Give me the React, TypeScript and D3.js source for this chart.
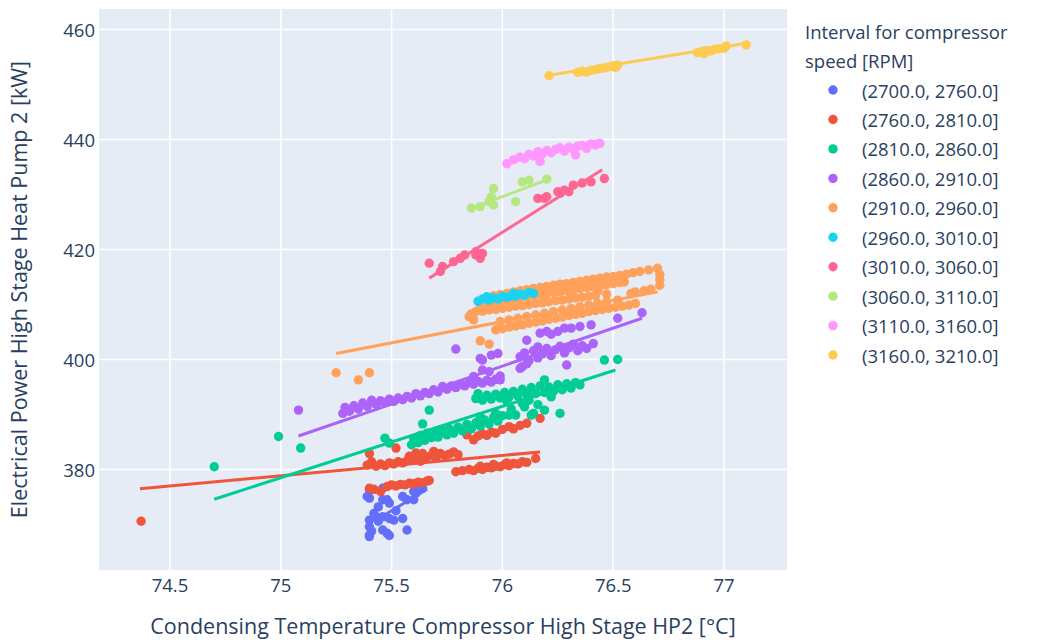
import React from "react";
import * as d3 from "d3";

type Pt = [number, number];

// Legend entries: compressor speed intervals
const speedBins: string[] = [
  "(2700.0, 2760.0]",
  "(2760.0, 2810.0]",
  "(2810.0, 2860.0]",
  "(2860.0, 2910.0]",
  "(2910.0, 2960.0]",
  "(2960.0, 3010.0]",
  "(3010.0, 3060.0]",
  "(3060.0, 3110.0]",
  "(3110.0, 3160.0]",
  "(3160.0, 3210.0]",
];

const binColors: string[] = [
  "#636efa", "#EF553B", "#00cc96", "#ab63fa", "#FFA15A",
  "#19d3f3", "#FF6692", "#B6E880", "#FF97FF", "#FECB52",
];

// Measurements: [condensing temperature °C, electrical power kW]
const rpm2700: Pt[] = [
  [75.40, 376.3], [75.46, 376.6], [75.39, 375.1], [75.40, 374.8], [75.46, 374.5], [75.44, 373.2],
  [75.49, 373.9], [75.48, 374.5], [75.40, 370.8], [75.43, 371.4], [75.44, 370.6], [75.46, 371.4],
  [75.49, 371.1], [75.51, 370.8], [75.55, 371.1], [75.40, 369.6], [75.41, 368.8], [75.40, 368.1],
  [75.40, 367.8], [75.46, 369.0], [75.48, 368.4], [75.49, 368.0], [75.57, 369.0], [75.55, 375.1],
  [75.57, 374.5], [75.60, 374.5], [75.61, 375.7], [75.60, 376.0], [75.64, 376.6], [75.62, 377.0],
  [75.42, 372.0], [75.52, 372.5],
];

const rpm2760: Pt[] = [
  [74.37, 370.6],
  [75.40, 376.6], [75.42, 376.4], [75.45, 376.0], [75.48, 376.9], [75.50, 377.2], [75.52, 377.0],
  [75.54, 377.3], [75.56, 377.2], [75.58, 377.5], [75.60, 377.4], [75.62, 377.7], [75.64, 377.6],
  [75.66, 377.9], [75.67, 378.0],
  [75.39, 380.8], [75.40, 382.9], [75.41, 381.4], [75.43, 380.6], [75.45, 381.0], [75.47, 380.7],
  [75.49, 381.2], [75.51, 381.0], [75.52, 383.9], [75.53, 381.4], [75.55, 381.2], [75.57, 381.6],
  [75.58, 382.4], [75.60, 381.8], [75.62, 382.2], [75.63, 381.5], [75.64, 382.9], [75.66, 382.3],
  [75.68, 382.6], [75.70, 382.1], [75.72, 382.9], [75.74, 382.5], [75.76, 382.8], [75.78, 383.2],
  [75.80, 382.7], [75.61, 383.0], [75.69, 383.3],
  [75.79, 379.6], [75.82, 379.8], [75.85, 380.0], [75.87, 379.8], [75.89, 380.2], [75.91, 380.0],
  [75.93, 380.4], [75.95, 380.3], [75.97, 380.6], [75.99, 380.5], [76.01, 380.9], [76.03, 380.7],
  [76.05, 381.1], [76.07, 381.0], [76.09, 381.4], [76.11, 381.3], [76.15, 382.0], [75.90, 380.6],
  [75.96, 380.9], [76.02, 381.2],
  [75.84, 386.3], [75.87, 385.4], [75.89, 386.1], [75.91, 386.5], [75.93, 386.2], [75.95, 386.8],
  [75.97, 386.6], [76.00, 387.3], [76.03, 387.8], [76.05, 387.4], [76.08, 388.0], [76.11, 388.4],
  [76.17, 389.3],
];

const rpm2810: Pt[] = [
  [74.70, 380.5], [74.99, 386.0], [75.09, 383.9], [75.47, 385.7], [75.49, 384.8], [75.64, 388.3],
  [75.67, 390.8],
  [75.59, 384.5], [75.60, 385.5], [75.62, 384.9], [75.63, 386.2], [75.65, 385.3], [75.66, 386.6],
  [75.68, 385.8], [75.70, 386.9], [75.71, 385.9], [75.73, 387.0], [75.75, 386.3], [75.76, 387.4],
  [75.78, 386.6], [75.80, 387.7], [75.82, 387.0], [75.84, 388.2], [75.86, 387.4], [75.88, 388.5],
  [75.90, 387.9], [75.92, 389.0], [75.94, 388.3], [75.96, 389.5], [75.98, 388.8], [76.00, 389.8],
  [76.03, 389.9], [75.90, 389.6], [75.97, 390.2],
  [75.88, 392.9], [75.89, 393.8], [75.91, 392.6], [75.93, 393.5], [75.95, 392.8], [75.97, 393.7],
  [75.99, 393.0], [76.01, 394.0], [76.03, 393.2], [76.05, 394.2], [76.07, 393.4], [76.09, 392.0],
  [76.09, 394.6], [76.11, 393.6], [76.13, 394.9], [76.15, 393.8], [76.17, 395.2], [76.19, 396.3],
  [76.19, 394.0], [76.21, 395.0], [76.23, 394.2], [76.25, 395.4], [76.27, 394.5], [76.29, 395.6],
  [76.31, 394.8], [76.33, 395.8], [76.35, 395.4], [76.02, 392.4], [76.12, 392.6], [76.22, 393.2],
  [76.46, 399.9], [76.52, 400.0], [76.26, 390.2], [76.13, 389.9], [76.19, 390.8], [76.06, 389.9],
  [76.14, 390.2], [76.04, 391.0], [76.10, 391.4], [76.16, 391.8],
];

const rpm2860: Pt[] = [
  [75.08, 390.8],
  [75.28, 390.2], [75.29, 391.3], [75.31, 390.6], [75.33, 391.6], [75.35, 391.0], [75.37, 392.1],
  [75.39, 391.5], [75.41, 392.6], [75.43, 391.9], [75.45, 392.5], [75.47, 392.2], [75.49, 392.8],
  [75.51, 392.4], [75.53, 393.0], [75.55, 392.7], [75.57, 393.3], [75.59, 393.0], [75.61, 393.8],
  [75.63, 393.4], [75.65, 394.0], [75.67, 393.8], [75.69, 394.5], [75.71, 394.1], [75.73, 395.1],
  [75.75, 394.6], [75.77, 395.2], [75.79, 394.9], [75.81, 395.5], [75.83, 395.2], [75.85, 395.8],
  [75.87, 395.5], [75.89, 396.0], [75.91, 395.7], [75.93, 396.2], [75.95, 395.9], [75.97, 396.4],
  [75.99, 396.3],
  [75.79, 401.9], [75.91, 399.9], [75.91, 398.1], [75.95, 400.8], [75.98, 401.1], [75.94, 397.8],
  [75.90, 400.2], [76.09, 398.7], [76.29, 399.0], [75.87, 396.9], [75.99, 397.0],
  [76.08, 400.5], [76.08, 398.4], [76.10, 401.2], [76.12, 399.8], [76.14, 401.6], [76.16, 400.3],
  [76.16, 402.3], [76.18, 401.0], [76.20, 402.0], [76.22, 400.7], [76.24, 401.8], [76.26, 402.4],
  [76.28, 401.2], [76.30, 402.1], [76.32, 402.8], [76.34, 401.6], [76.36, 402.5], [76.38, 402.0],
  [76.41, 402.9], [76.11, 399.2],
  [76.11, 403.5], [76.17, 404.8], [76.25, 405.1], [76.31, 405.7], [76.35, 406.0], [76.52, 407.5],
  [76.63, 408.5], [76.20, 405.1], [76.28, 405.7], [76.22, 404.6], [76.40, 406.3],
];

const rpm2910: Pt[] = [
  [75.25, 397.6], [75.35, 396.3], [75.40, 397.6], [75.85, 407.8], [75.90, 403.4], [75.94, 402.8],
  [75.86, 408.3], [75.87, 407.2],
  [75.96, 411.6], [75.99, 411.8], [76.02, 412.0], [76.05, 412.3], [76.08, 412.5], [76.11, 412.7],
  [76.14, 412.9], [76.17, 413.1], [76.20, 413.3], [76.23, 413.5], [76.26, 413.7], [76.29, 413.8],
  [76.32, 414.0], [76.35, 414.2], [76.38, 414.4], [76.41, 414.6], [76.44, 414.8], [76.47, 415.0],
  [76.50, 415.1], [76.53, 415.3], [76.56, 415.5], [76.59, 415.8], [76.62, 416.0], [76.66, 416.3],
  [76.70, 416.6],
  [75.90, 410.0], [75.93, 410.1], [75.96, 410.3], [75.99, 410.6], [76.02, 410.8], [76.05, 411.0],
  [76.08, 411.2], [76.11, 411.4], [76.14, 411.6], [76.17, 411.8], [76.20, 412.0], [76.23, 412.2],
  [76.26, 412.3], [76.29, 412.5], [76.32, 412.7], [76.35, 412.9], [76.38, 413.1], [76.41, 413.2],
  [76.44, 413.4], [76.47, 413.6], [76.50, 413.8], [76.53, 414.0], [76.55, 414.1],
  [76.04, 411.6], [76.13, 412.2], [76.22, 412.8], [76.31, 413.4], [76.40, 413.9], [76.49, 414.4],
  [75.95, 409.6], [76.07, 410.4], [76.19, 411.1], [76.31, 411.8], [76.43, 412.4],
  [75.88, 408.7], [75.91, 408.8], [75.94, 409.0], [75.97, 409.1], [76.00, 409.3], [76.03, 409.5],
  [76.06, 409.7], [76.09, 409.8], [76.12, 410.0], [76.15, 410.2], [76.18, 410.3], [76.21, 410.5],
  [76.24, 410.7], [76.27, 410.8], [76.30, 411.0], [76.33, 411.2], [76.36, 411.3], [76.39, 411.5],
  [76.42, 411.6], [76.47, 411.9],
  [76.58, 412.0], [76.60, 412.3], [76.64, 412.5], [76.67, 412.8], [76.71, 413.5], [76.71, 414.5],
  [76.71, 415.5],
  [75.97, 405.4], [76.00, 405.6], [76.03, 405.9], [76.06, 406.1], [76.09, 406.3], [76.12, 406.6],
  [76.15, 406.8], [76.18, 407.0], [76.21, 407.3], [76.24, 407.5], [76.27, 407.7], [76.30, 408.0],
  [76.33, 408.2], [76.36, 408.4], [76.39, 408.7], [76.42, 408.9], [76.45, 409.1], [76.48, 409.3],
  [76.51, 409.5], [76.54, 409.7], [76.57, 409.9], [76.60, 410.2],
  [75.99, 406.9], [76.03, 407.2], [76.07, 407.5], [76.11, 407.8], [76.15, 408.1], [76.19, 408.4],
  [76.23, 408.7], [76.27, 409.0], [76.31, 409.3], [76.35, 409.6], [76.39, 409.9], [76.43, 410.2],
  [76.47, 410.5], [76.52, 410.8],
];

const rpm2960: Pt[] = [
  [75.89, 410.6], [75.91, 411.0], [75.93, 411.4], [75.94, 410.8], [75.96, 411.2], [75.98, 411.0],
  [76.00, 411.5], [76.02, 411.3], [76.04, 411.6], [76.05, 412.0], [76.06, 411.5], [76.08, 411.9],
  [76.10, 411.7], [76.12, 412.2], [76.14, 412.0],
];

const rpm3010: Pt[] = [
  [75.67, 417.5], [75.73, 416.9], [75.72, 416.0], [75.78, 417.8], [75.81, 418.4], [75.83, 419.0],
  [75.88, 419.0], [75.88, 419.6], [75.90, 418.4], [75.91, 419.3], [75.90, 418.9],
  [76.16, 429.3], [76.19, 429.3], [76.20, 429.6], [76.25, 430.5], [76.26, 430.2], [76.28, 430.8],
  [76.30, 430.5], [76.32, 431.7], [76.36, 432.1], [76.40, 432.3], [76.46, 432.9],
];

const rpm3060: Pt[] = [
  [75.86, 427.5], [75.90, 427.8], [75.94, 428.7], [75.95, 429.6], [75.96, 428.1], [75.96, 431.1],
  [76.06, 428.7], [76.09, 432.3], [76.12, 432.6], [76.20, 432.8],
];

const rpm3110: Pt[] = [
  [76.02, 435.6], [76.05, 436.3], [76.08, 436.8], [76.10, 436.5], [76.12, 437.3], [76.14, 437.0],
  [76.16, 437.8], [76.17, 436.0], [76.18, 437.4], [76.20, 438.0], [76.22, 437.6], [76.24, 438.2],
  [76.26, 438.5], [76.28, 437.9], [76.30, 438.6], [76.32, 438.3], [76.33, 437.2], [76.34, 438.8],
  [76.36, 438.9], [76.38, 438.4], [76.40, 439.2], [76.42, 439.0], [76.44, 439.3],
];

const rpm3160: Pt[] = [
  [76.21, 451.6], [76.34, 452.2], [76.36, 452.4], [76.38, 452.3], [76.40, 452.6], [76.42, 452.7],
  [76.44, 452.9], [76.46, 453.0], [76.48, 453.2], [76.50, 453.4], [76.51, 453.1], [76.52, 453.5],
  [76.88, 455.8], [76.90, 456.0], [76.91, 455.6], [76.92, 456.2], [76.94, 456.1], [76.96, 456.4],
  [76.98, 456.5], [77.00, 456.6], [77.01, 457.0], [77.10, 457.2],
];

// OLS trendline endpoints per interval
const trend2700: Pt[] = [[75.43, 370.8], [75.66, 376.4]];
const trend2760: Pt[] = [[74.365, 376.5], [76.17, 383.2]];
const trend2810: Pt[] = [[74.70, 374.6], [76.51, 398.1]];
const trend2860: Pt[] = [[75.08, 386.1], [76.63, 407.5]];
const trend2910: Pt[] = [[75.25, 401.1], [76.70, 412.3]];
const trend2960: Pt[] = [[75.89, 410.8], [76.14, 412.0]];
const trend3010: Pt[] = [[75.67, 414.8], [76.45, 434.5]];
const trend3060: Pt[] = [[75.86, 427.5], [76.21, 432.8]];
const trend3110: Pt[] = [[76.02, 435.7], [76.44, 439.9]];
const trend3160: Pt[] = [[76.21, 451.7], [77.10, 457.5]];

const seriesPoints: Pt[][] = [
  rpm2700, rpm2760, rpm2810, rpm2860, rpm2910, rpm2960, rpm3010, rpm3060, rpm3110, rpm3160,
];
const seriesTrends: Pt[][] = [
  trend2700, trend2760, trend2810, trend2860, trend2910, trend2960, trend3010, trend3060, trend3110, trend3160,
];

const xTicks: number[] = [74.5, 75, 75.5, 76, 76.5, 77];
const yTicks: number[] = [380, 400, 420, 440, 460];

const xTitle = "Condensing Temperature Compressor High Stage HP2 [°C]";
const yTitle = "Electrical Power High Stage Heat Pump 2 [kW]";
const legendTitle: string[] = ["Interval for compressor", "speed [RPM]"];

const W = 1048;
const H = 640;
const plot = { left: 99, right: 787, top: 9, bottom: 570 };
const FONT = "'Open Sans', 'Noto Sans', sans-serif";
const INK = "#2a3f5f";

export default function App() {
  const x = d3.scaleLinear().domain([74.18, 77.284]).range([plot.left, plot.right]);
  const y = d3.scaleLinear().domain([361.73, 463.73]).range([plot.bottom, plot.top]);
  const line = d3
    .line<Pt>()
    .x((d) => x(d[0]))
    .y((d) => y(d[1]));

  return (
    <svg
      width={W}
      height={H}
      style={{ position: "absolute", left: 0, top: 0, background: "#fff" }}
      fontFamily={FONT}
    >
      <rect
        x={plot.left}
        y={plot.top}
        width={plot.right - plot.left}
        height={plot.bottom - plot.top}
        fill="#E5ECF6"
      />
      <g stroke="#fff" strokeWidth={1.6}>
        {xTicks.map((t) => (
          <line key={"gx" + t} x1={x(t)} x2={x(t)} y1={plot.top} y2={plot.bottom} />
        ))}
        {yTicks.map((t) => (
          <line key={"gy" + t} x1={plot.left} x2={plot.right} y1={y(t)} y2={y(t)} />
        ))}
      </g>

      {seriesPoints.map((pts, i) => (
        <g key={"s" + i}>
          {pts.map((p, j) => (
            <circle key={j} cx={x(p[0])} cy={y(p[1])} r={4.7} fill={binColors[i]} />
          ))}
          <path d={line(seriesTrends[i]) || ""} fill="none" stroke={binColors[i]} strokeWidth={3} />
        </g>
      ))}

      <g fill={INK} fontSize={18.5}>
        {xTicks.map((t) => (
          <text key={"tx" + t} x={x(t)} y={592} textAnchor="middle">
            {d3.format("~g")(t)}
          </text>
        ))}
        {yTicks.map((t) => (
          <text key={"ty" + t} x={95} y={y(t)} textAnchor="end" dominantBaseline="central">
            {t}
          </text>
        ))}
      </g>

      <text
        x={(plot.left + plot.right) / 2}
        y={634}
        textAnchor="middle"
        fill={INK}
        fontSize={21.5}
      >
        {xTitle}
      </text>
      <text
        transform={`translate(27,${(plot.top + plot.bottom) / 2}) rotate(-90)`}
        textAnchor="middle"
        fill={INK}
        fontSize={21.5}
      >
        {yTitle}
      </text>

      <g fill={INK} fontSize={18.5}>
        {legendTitle.map((s, i) => (
          <text key={"lt" + i} x={805} y={31 + i * 29.5} dominantBaseline="central">
            {s}
          </text>
        ))}
        {speedBins.map((s, i) => (
          <g key={"lg" + i} transform={`translate(0,${90 + i * 29.45})`}>
            <circle cx={833} cy={0} r={4.7} fill={binColors[i]} />
            <text x={862} y={0} dominantBaseline="central">
              {s}
            </text>
          </g>
        ))}
      </g>
    </svg>
  );
}
